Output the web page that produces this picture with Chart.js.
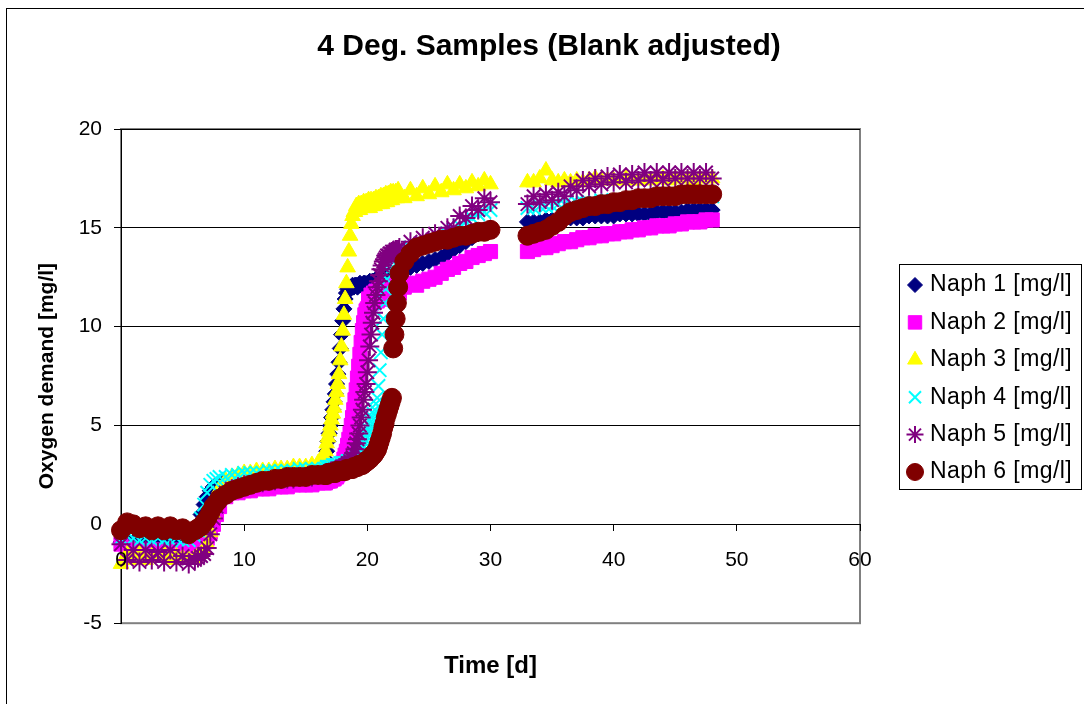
<!DOCTYPE html>
<html>
<head>
<meta charset="utf-8">
<title>4 Deg. Samples (Blank adjusted)</title>
<script src="https://cdn.jsdelivr.net/npm/chart.js@4.4.1/dist/chart.umd.min.js"></script>
<style>
  html, body { margin: 0; padding: 0; background: #fff; }
  canvas { display: block; }
</style>
</head>
<body>
<canvas id="chart" width="1084" height="704"></canvas>
<script>
// sampling times [d] (denser where the curves climb fast)
const days = [
  0, 0.5, 1, 1.5, 2, 2.5, 3, 3.5, 4, 4.5, 5, 5.5,
  6, 6.25, 6.5, 6.75, 7, 7.25, 7.5, 7.75, 8, 8.5,
  9, 9.5, 10, 10.5, 11, 11.5, 12, 12.5, 13, 13.5, 14, 14.5, 15, 15.5, 16,
  16.5, 16.6, 16.7, 16.8, 16.9,
  17, 17.1, 17.2, 17.3, 17.4, 17.5, 17.6, 17.7, 17.8, 17.9,
  18, 18.1, 18.2, 18.3, 18.4, 18.5, 18.6, 18.7, 18.8, 18.9,
  19, 19.1, 19.2, 19.3, 19.4, 19.5, 19.6, 19.7, 19.8, 19.9,
  20, 20.1, 20.2, 20.3, 20.4, 20.5, 20.6, 20.7, 20.8, 20.9,
  21, 21.1, 21.2, 21.3, 21.4, 21.5, 21.6, 21.7, 21.8, 21.9,
  22, 22.1, 22.2, 22.3, 22.4, 22.5, 22.6,
  23, 23.5, 24, 24.5, 25, 25.5, 26, 26.5, 27, 27.5, 28, 28.5, 29, 29.5, 30,
  33, 33.5, 34, 34.5, 35, 35.5, 36, 36.5, 37, 37.5, 38, 38.5, 39, 39.5, 40,
  40.5, 41, 41.5, 42, 42.5, 43, 43.5, 44, 44.5, 45, 45.5, 46, 46.5, 47, 47.5, 48
];

// oxygen demand [mg/l], one value per entry of days
const naph1 = [
  -0.9, -0.8, -0.9, -1.0, -0.9, -0.9, -1.0, -0.9, -1.0, -1.0, -1.1, -1.0,
  -0.5, 0.0, 0.5, 1.0, 1.4, 1.7, 1.9, 2.0, 2.1, 2.2,
  2.3, 2.3, 2.4, 2.4, 2.5, 2.5, 2.5, 2.6, 2.6, 2.6, 2.6, 2.7, 2.7, 2.7, 2.8,
  3.0, 3.3, 3.7, 4.2, 4.6,
  5.0, 5.4, 5.8, 6.2, 6.6, 7.1, 7.6, 8.2, 8.9, 9.6,
  10.3, 10.9, 11.4, 11.7, 11.9, 12.0, 11.9, 12.0, 12.1, 12.0,
  12.1, 12.1, 12.0, 12.1, 12.2, 12.1, 12.1, 12.2, 12.2, 12.1,
  12.2, 12.2, 12.3, 12.2, 12.3, 12.3, 12.3, 12.4, 12.3, 12.4,
  12.4, 12.4, 12.5, 12.4, 12.5, 12.5, 12.5, 12.6, 12.5, 12.6,
  12.6, 12.6, 12.7, 12.7, 12.7, 12.8, 12.8,
  12.9, 13.0, 13.1, 13.2, 13.3, 13.4, 13.5, 13.7, 13.9, 14.1, 14.3, 14.5, 14.7, 14.9, 15.0,
  15.3, 15.3, 15.3, 15.4, 15.4, 15.4, 15.5, 15.5, 15.5, 15.5, 15.6, 15.6, 15.6, 15.6, 15.6,
  15.7, 15.7, 15.7, 15.7, 15.7, 15.7, 15.8, 15.8, 15.8, 15.8, 15.8, 15.9, 15.9, 15.9, 15.9, 15.9
];
const naph2 = [
  -1.0, -1.2, -1.3, -1.3, -1.4, -1.3, -1.3, -1.4, -1.4, -1.3, -1.4, -1.4,
  -1.3, -1.2, -1.1, -0.9, -0.7, -0.4, 0.0, 0.5, 0.9, 1.4,
  1.6, 1.6, 1.7, 1.7, 1.8, 1.8, 1.8, 1.9, 1.9, 1.9, 2.0, 2.0, 2.0, 2.0, 2.1,
  2.1, 2.1, 2.2, 2.2, 2.2,
  2.2, 2.3, 2.3, 2.3, 2.4, 2.4, 2.5, 2.6, 2.7, 2.9,
  3.1, 3.3, 3.5, 3.7, 4.0, 4.3, 4.6, 5.0, 5.4, 5.8,
  6.3, 6.8, 7.4, 8.0, 8.6, 9.2, 9.8, 10.2, 10.6, 10.8,
  10.9, 11.4, 11.1, 11.6, 11.2, 11.7, 11.3, 11.8, 11.3, 11.8,
  11.4, 11.9, 11.4, 11.9, 11.5, 12.0, 11.5, 12.0, 11.5, 12.0,
  11.6, 12.1, 11.6, 12.1, 11.7, 12.2, 11.7,
  12.0, 12.2, 12.1, 12.3, 12.4, 12.5, 12.7, 12.9, 13.0, 13.2, 13.3, 13.5, 13.6, 13.7, 13.8,
  13.8, 13.9, 14.0, 14.0, 14.1, 14.2, 14.3, 14.3, 14.4, 14.5, 14.5, 14.6, 14.6, 14.7, 14.7,
  14.8, 14.8, 14.9, 14.9, 15.0, 15.0, 15.1, 15.1, 15.1, 15.2, 15.2, 15.3, 15.3, 15.3, 15.4, 15.4
];
const naph3 = [
  -2.0, -1.5, -1.8, -1.5, -1.8, -1.6, -1.7, -1.5, -1.8, -1.6, -1.7, -1.8,
  -1.7, -1.6, -1.5, -1.3, -1.0, -0.4, 0.5, 1.3, 1.8, 2.2,
  2.4, 2.5, 2.6, 2.6, 2.7, 2.7, 2.7, 2.8, 2.8, 2.8, 2.9, 2.9, 2.9, 3.0, 3.1,
  3.4, 3.7, 4.1, 4.4, 4.7,
  5.0, 5.3, 5.6, 5.9, 6.3, 6.7, 7.1, 7.6, 8.3, 9.0,
  9.8, 10.6, 11.4, 12.2, 13.0, 13.8, 14.6, 15.2, 15.6, 15.8,
  15.8, 16.1, 15.9, 16.2, 15.9, 16.2, 16.0, 16.3, 16.0, 16.3,
  16.0, 16.4, 16.0, 16.4, 16.1, 16.4, 16.1, 16.5, 16.2, 16.5,
  16.2, 16.6, 16.2, 16.6, 16.3, 16.7, 16.3, 16.7, 16.4, 16.8,
  16.4, 16.8, 16.5, 16.8, 16.5, 16.9, 16.6,
  16.5, 16.9, 16.6, 17.0, 16.7, 17.1, 16.8, 17.2, 16.9, 17.2, 17.0, 17.3, 17.1, 17.4, 17.2,
  17.3, 17.3, 17.5, 17.9, 17.4, 17.3, 17.4, 17.3, 17.4, 17.3, 17.4, 17.5, 17.4, 17.4, 17.4,
  17.4, 17.5, 17.4, 17.4, 17.5, 17.4, 17.5, 17.5, 17.4, 17.5, 17.5, 17.5, 17.4, 17.5, 17.5, 17.5
];
const naph4 = [
  -0.7, -0.6, -0.7, -0.8, -0.7, -0.8, -0.7, -0.8, -0.8, -0.7, -0.8, -0.8,
  -0.6, -0.3, 0.3, 1.0, 1.6, 2.0, 2.2, 2.3, 2.4, 2.4,
  2.5, 2.5, 2.6, 2.6, 2.6, 2.6, 2.7, 2.7, 2.7, 2.7, 2.7, 2.8, 2.8, 2.8, 2.8,
  2.8, 2.8, 2.9, 2.9, 2.9,
  2.9, 2.9, 3.0, 3.0, 3.0, 3.0, 3.0, 3.0, 3.1, 3.1,
  3.1, 3.1, 3.1, 3.1, 3.2, 3.2, 3.2, 3.2, 3.2, 3.3,
  3.3, 3.4, 3.5, 3.6, 3.7, 3.9, 4.0, 4.2, 4.3, 4.5,
  4.6, 4.8, 5.0, 5.2, 5.4, 5.6, 5.8, 6.1, 6.4, 7.0,
  7.8, 8.7, 9.6, 10.4, 11.2, 11.9, 12.4, 12.8, 13.2, 13.4,
  13.5, 13.6, 13.6, 13.7, 13.7, 13.8, 13.8,
  13.9, 14.0, 14.1, 14.2, 14.3, 14.4, 14.5, 14.7, 14.9, 15.1, 15.3, 15.5, 15.7, 15.8, 15.9,
  16.0, 16.0, 16.1, 16.1, 16.1, 16.2, 16.2, 16.2, 16.3, 16.3, 16.3, 16.3, 16.4, 16.4, 16.4,
  16.4, 16.4, 16.5, 16.5, 16.5, 16.5, 16.5, 16.5, 16.6, 16.6, 16.6, 16.6, 16.6, 16.6, 16.6, 16.6
];
const naph5 = [
  -1.0, -1.8, -1.3, -1.9, -1.3, -1.8, -1.4, -1.9, -1.3, -1.9, -1.6, -2.0,
  -1.8, -1.7, -1.6, -1.5, -1.2, -0.5, 0.3, 0.9, 1.3, 1.6,
  1.8, 1.9, 2.0, 2.0, 2.1, 2.1, 2.2, 2.2, 2.3, 2.3, 2.3, 2.4, 2.4, 2.4, 2.5,
  2.5, 2.5, 2.6, 2.6, 2.6,
  2.6, 2.7, 2.7, 2.7, 2.7, 2.8, 2.8, 2.8, 2.8, 2.9,
  2.9, 2.9, 3.0, 3.0, 3.1, 3.1, 3.2, 3.3, 3.4, 3.6,
  3.8, 4.1, 4.3, 4.6, 5.0, 5.4, 5.8, 6.3, 6.7, 7.1,
  7.7, 8.3, 9.0, 9.6, 10.2, 10.7, 11.2, 11.6, 12.0, 12.3,
  12.6, 12.9, 13.1, 13.3, 13.4, 13.5, 13.6, 13.6, 13.7, 13.7,
  13.8, 13.8, 13.8, 13.9, 13.9, 13.9, 14.0,
  13.8, 14.3, 14.0, 14.5, 14.2, 14.7, 14.4, 15.0, 15.0, 15.6, 15.5, 16.1, 15.9, 16.5, 16.3,
  16.2, 16.6, 16.3, 16.7, 16.4, 16.8, 16.6, 17.1, 16.9, 17.4, 17.1, 17.5, 17.2, 17.6, 17.3,
  17.7, 17.3, 17.7, 17.4, 17.8, 17.4, 17.8, 17.4, 17.8, 17.5, 17.8, 17.5, 17.8, 17.5, 17.8, 17.5
];
const naph6 = [
  -0.3, 0.1, 0.0, -0.2, -0.1, -0.3, -0.1, -0.3, -0.1, -0.3, -0.2, -0.5,
  -0.3, -0.2, -0.1, 0.1, 0.3, 0.6, 0.9, 1.1, 1.3, 1.5,
  1.7, 1.8, 1.9, 2.0, 2.1, 2.2, 2.2, 2.3, 2.3, 2.4, 2.4, 2.4, 2.4, 2.5, 2.5,
  2.5, 2.5, 2.5, 2.6, 2.6,
  2.6, 2.6, 2.6, 2.6, 2.6, 2.7, 2.7, 2.7, 2.7, 2.7,
  2.7, 2.7, 2.7, 2.8, 2.8, 2.8, 2.8, 2.8, 2.8, 2.9,
  2.9, 2.9, 2.9, 3.0, 3.0, 3.0, 3.0, 3.1, 3.1, 3.2,
  3.2, 3.3, 3.3, 3.4, 3.5, 3.5, 3.6, 3.7, 3.8, 4.0,
  4.2, 4.4, 4.6, 4.9, 5.1, 5.4, 5.6, 5.8, 6.0, 6.2,
  6.4, 8.9, 9.6, 10.4, 11.2, 12.0, 12.7,
  13.3, 13.7, 14.0, 14.1, 14.2, 14.3, 14.4, 14.4, 14.5, 14.6, 14.6, 14.7, 14.8, 14.8, 14.9,
  14.6, 14.7, 14.8, 14.9, 15.1, 15.3, 15.6, 15.8, 15.9, 16.0, 16.1, 16.1, 16.2, 16.2, 16.3,
  16.3, 16.4, 16.4, 16.5, 16.5, 16.5, 16.6, 16.6, 16.6, 16.6, 16.7, 16.7, 16.7, 16.7, 16.7, 16.7
];

const seriesNames = ['Naph 1 [mg/l]', 'Naph 2 [mg/l]', 'Naph 3 [mg/l]', 'Naph 4 [mg/l]', 'Naph 5 [mg/l]', 'Naph 6 [mg/l]'];
const xTicks = [0, 10, 20, 30, 40, 50, 60];
const yTicks = [-5, 0, 5, 10, 15, 20];

// looks
const seriesColors = ['#000080', '#FF00FF', '#FFFF00', '#00FFFF', '#800080', '#800000'];
const seriesMarkers = ['rectRot', 'rect', 'triangle', 'crossRot', 'star', 'circle'];
const markerRadius = [8, 10, 9, 9.5, 9.5, 9.5];
const legendRadius = [7.5, 9.5, 8.5, 8.5, 8.5, 8.5];
const markerLine = [1, 1, 1, 2, 2, 1];
const FONT = "'Liberation Sans', Arial, Helvetica, sans-serif";

const seriesValues = [naph1, naph2, naph3, naph4, naph5, naph6];
seriesValues.forEach((v, i) => {
  if (v.length !== days.length) console.error(seriesNames[i] + ': ' + v.length + ' values, ' + days.length + ' days');
});

const datasets = seriesValues.map((vals, i) => ({
  label: seriesNames[i],
  data: days.map((d, j) => ({ x: d, y: vals[j] })),
  showLine: false,
  pointStyle: seriesMarkers[i],
  pointRadius: markerRadius[i],
  pointBackgroundColor: seriesColors[i],
  pointBorderColor: seriesColors[i],
  pointBorderWidth: markerLine[i],
  // Excel paints the last series on top
  order: seriesValues.length - i,
  clip: false
}));

// white page, outer chart frame and grey plot area border
const frame = {
  id: 'frame',
  beforeDraw(chart) {
    const { ctx, chartArea: a } = chart;
    ctx.save();
    ctx.fillStyle = '#fff';
    ctx.fillRect(0, 0, chart.width, chart.height);
    ctx.strokeStyle = '#000';
    ctx.lineWidth = 1;
    ctx.strokeRect(6.5, 8.5, chart.width, chart.height);
    ctx.strokeStyle = '#808080';
    ctx.lineWidth = 2;
    ctx.strokeRect(a.left, a.top, a.right - a.left, a.bottom - a.top);
    ctx.restore();
  }
};

// boxed legend to the right of the plot
const boxLegend = {
  id: 'boxLegend',
  afterDraw(chart) {
    const { ctx, chartArea: a } = chart;
    const left = a.right + 39, top = 264, w = 182, h = 225, row = 37.4;
    ctx.save();
    ctx.fillStyle = '#fff';
    ctx.fillRect(left, top, w, h);
    ctx.strokeStyle = '#000';
    ctx.lineWidth = 1;
    ctx.strokeRect(left + 0.5, top + 0.5, w, h);
    ctx.font = '23px ' + FONT;
    if ('letterSpacing' in ctx) ctx.letterSpacing = '0.4px';
    ctx.textBaseline = 'middle';
    ctx.textAlign = 'left';
    chart.data.datasets.forEach((ds, i) => {
      const y = top + 21 + i * row;
      ctx.fillStyle = ds.pointBackgroundColor;
      ctx.strokeStyle = ds.pointBorderColor;
      ctx.lineWidth = ds.pointBorderWidth;
      Chart.helpers.drawPoint(ctx, {
        pointStyle: ds.pointStyle, radius: legendRadius[i], rotation: 0, borderWidth: ds.pointBorderWidth
      }, left + 16, y);
      ctx.fillStyle = '#000';
      ctx.fillText(ds.label, left + 31, y);
    });
    ctx.restore();
  }
};

new Chart(document.getElementById('chart'), {
  type: 'scatter',
  data: { datasets },
  options: {
    responsive: false,
    devicePixelRatio: 1,
    animation: false,
    events: [],
    layout: { padding: { left: 30, right: 16, top: 0, bottom: 23 } },
    scales: {
      x: {
        type: 'linear',
        min: 0,
        max: 60,
        position: { y: 0 },
        afterBuildTicks: s => { s.ticks = xTicks.map(v => ({ value: v })); },
        grid: { drawOnChartArea: false, tickLength: 7, tickColor: '#000' },
        // the 0 line itself comes from the y grid, under the markers
        border: { display: false },
        // tick labels over the markers, as in the original
        ticks: { z: 1, color: '#000', font: { family: FONT, size: 21 }, padding: 16, maxRotation: 0, autoSkip: false }
      },
      y: {
        type: 'linear',
        position: 'left',
        min: -5,
        max: 20,
        afterBuildTicks: s => { s.ticks = yTicks.map(v => ({ value: v })); },
        afterFit: s => { s.width = 91; },
        grid: {
          color: c => (c.tick && c.tick.value === -5 ? '#808080' : '#000'),
          tickLength: 7,
          tickColor: '#000'
        },
        border: { color: '#000', width: 1 },
        ticks: { color: '#000', font: { family: FONT, size: 21 }, padding: 12 },
        title: {
          display: true,
          text: 'Oxygen demand [mg/l]',
          color: '#000',
          font: { family: FONT, size: 21, weight: 'bold' },
          padding: { top: 5, bottom: 0 }
        }
      },
      // empty axis that keeps room for the legend box
      yLegend: {
        axis: 'y',
        type: 'linear',
        position: 'right',
        min: -5,
        max: 20,
        grid: { display: false },
        border: { display: false },
        ticks: { display: false },
        afterFit: s => { s.width = 208; }
      }
    },
    plugins: {
      legend: { display: false },
      tooltip: { enabled: false },
      title: {
        display: true,
        text: '4 Deg. Samples (Blank adjusted)',
        color: '#000',
        font: { family: FONT, size: 30, weight: 'bold' },
        padding: { top: 29, bottom: 64 }
      },
      subtitle: {
        display: true,
        position: 'bottom',
        fullSize: false,
        text: 'Time [d]',
        color: '#000',
        font: { family: FONT, size: 24, weight: 'bold' },
        padding: { top: 29, bottom: 0 }
      }
    }
  },
  plugins: [frame, boxLegend]
});
</script>
</body>
</html>
